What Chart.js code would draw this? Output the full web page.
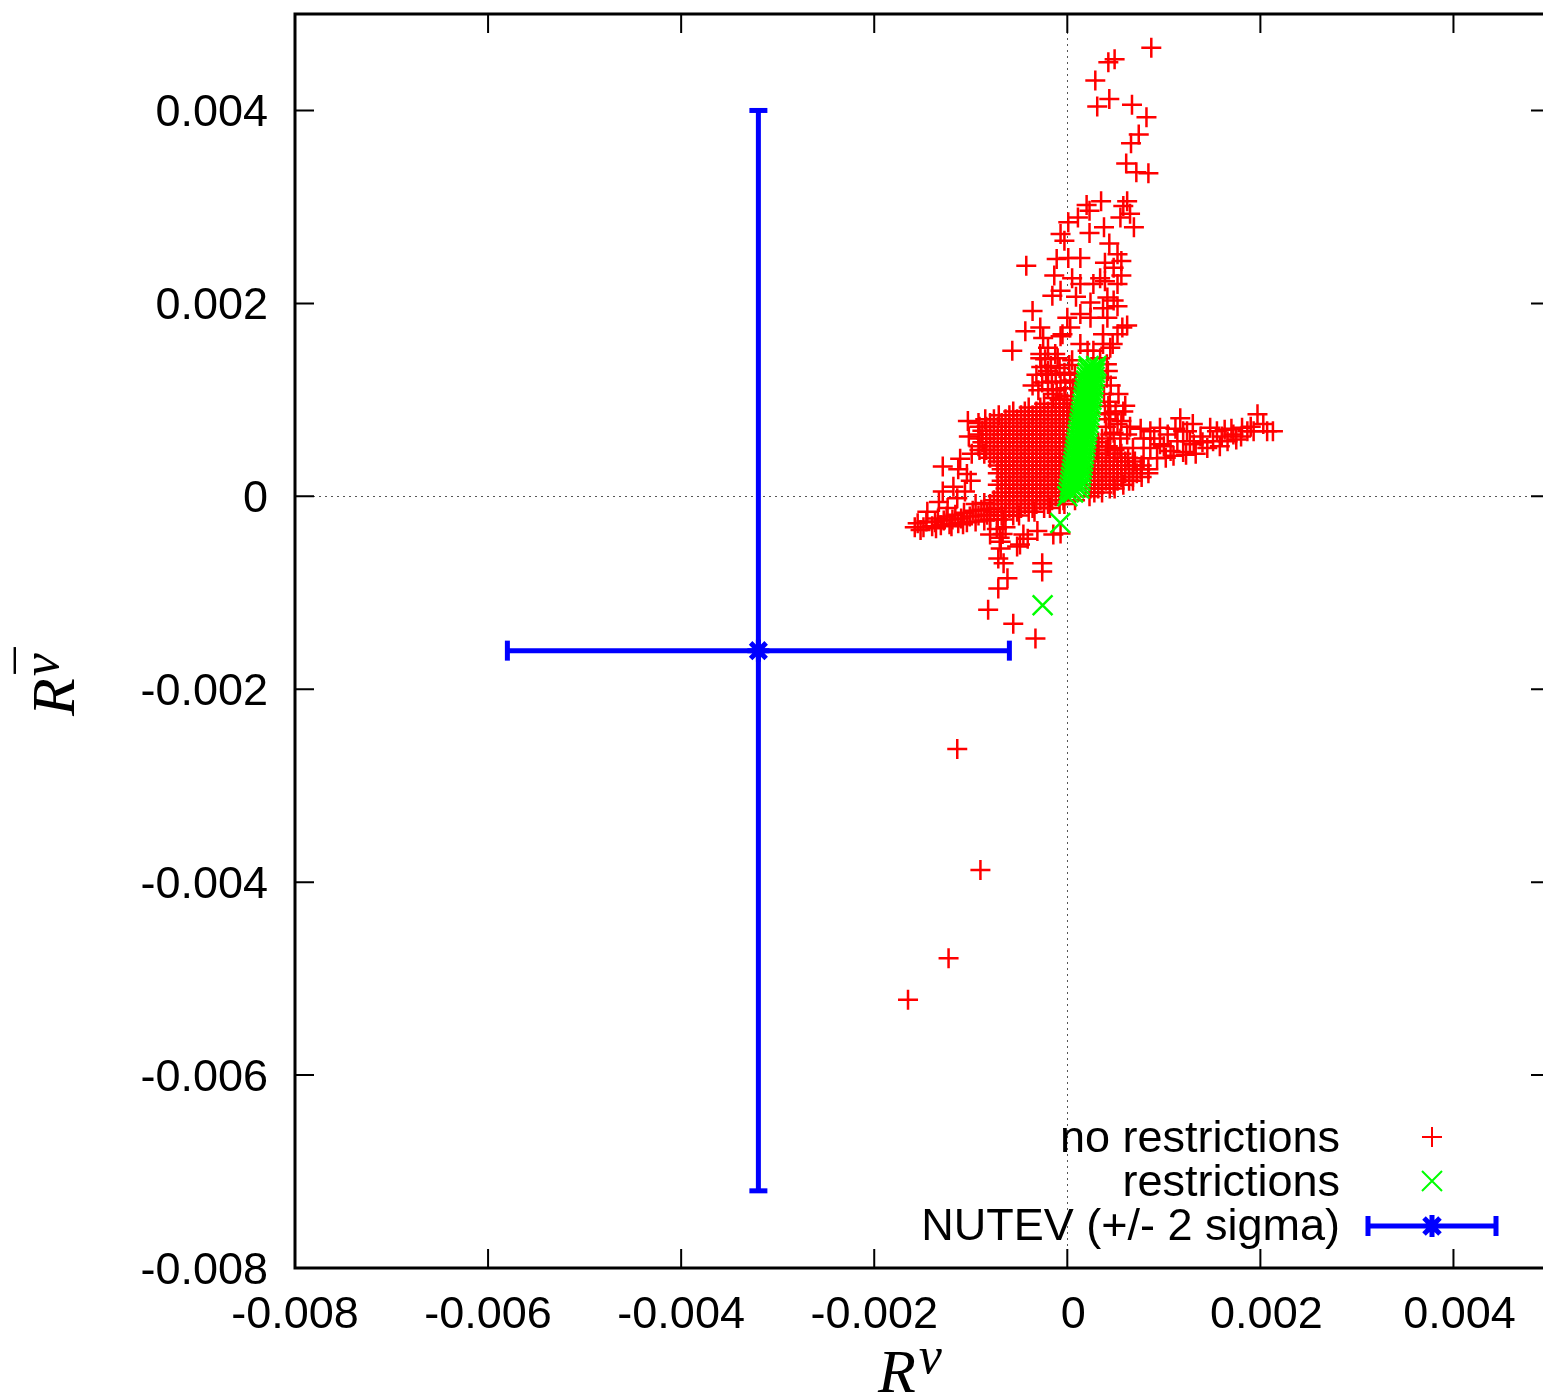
<!DOCTYPE html>
<html><head><meta charset="utf-8">
<script src="https://cdn.jsdelivr.net/npm/chart.js@4/dist/chart.umd.min.js"></script>
<style>
html,body{margin:0;padding:0;overflow:hidden;background:#fff;width:1543px;height:1400px}
#wrap{position:relative;width:1550px;height:1400px}
canvas{display:block}
</style></head><body><div id="wrap"><canvas id="c" width="1550" height="1400"></canvas></div>
<script>
// ---------- data ----------
const xTicks = [-0.008,-0.006,-0.004,-0.002,0,0.002,0.004];
const xTickLabels = ["-0.008","-0.006","-0.004","-0.002","0","0.002","0.004"];
const yTicks = [-0.008,-0.006,-0.004,-0.002,0,0.002,0.004];
const yTickLabels = ["-0.008","-0.006","-0.004","-0.002","0","0.002","0.004"];
const seriesNames = ["no restrictions","restrictions","NUTEV (+/- 2 sigma)"];
const xTitle = ["R","ν"];
const yTitle = ["R","ν","¯"];

// no restrictions (R^nu, R^nubar)
const noRestrictions = [
// lower-left arm
[-15.8e-4,-3.2e-4],[-15.5e-4,-2.8e-4],[-14.9e-4,-3.2e-4],[-14.6e-4,-2.6e-4],[-14.0e-4,-3.1e-4],[-13.7e-4,-2.7e-4],[-13.4e-4,-2.3e-4],
[-13.1e-4,-3.0e-4],[-12.8e-4,-2.5e-4],[-12.5e-4,-2.1e-4],[-12.2e-4,-2.9e-4],[-11.9e-4,-2.4e-4],[-11.6e-4,-1.9e-4],[-11.3e-4,-2.8e-4],
[-11.0e-4,-2.3e-4],[-10.7e-4,-1.7e-4],[-10.4e-4,-2.7e-4],[-10.1e-4,-2.1e-4],[-9.8e-4,-1.5e-4],[-9.5e-4,-2.6e-4],[-9.2e-4,-2.0e-4],
[-8.9e-4,-1.4e-4],[-9.5e-4,-0.8e-4],[-8.6e-4,-2.5e-4],[-8.3e-4,-1.9e-4],[-8.0e-4,-1.3e-4],[-8.6e-4,-0.7e-4],
[-15.2e-4,-3.5e-4],[-13.6e-4,-3.3e-4],[-12.0e-4,-3.1e-4],[-10.8e-4,-2.9e-4],
// sparse left
[-12.9e-4,3.1e-4],[-11.3e-4,2.8e-4],[-11.1e-4,3.9e-4],[-12.9e-4,0.5e-4],[-10.4e-4,2.3e-4],[-14.5e-4,-1.6e-4],[-12.4e-4,-1.2e-4],
[-11.4e-4,-0.2e-4],[-10.0e-4,1.6e-4],[-9.9e-4,4.4e-4],[-10.2e-4,6.2e-4],[-10.3e-4,7.8e-4],[-13.3e-4,-0.6e-4],[-11.8e-4,1.0e-4],[-10.6e-4,0.5e-4],
// dense block, row by row
[-8.0e-4,-2.4e-4],[-7.2e-4,-2.4e-4],[-6.6e-4,-2.4e-4],
[-8.0e-4,-2.0e-4],[-6.8e-4,-2.0e-4],[-5.6e-4,-2.0e-4],[-5.0e-4,-2.0e-4],
[-7.6e-4,-1.6e-4],[-6.4e-4,-1.6e-4],[-5.2e-4,-1.6e-4],[-4.0e-4,-1.6e-4],[-3.4e-4,-1.6e-4],
[-7.2e-4,-1.2e-4],[-6.0e-4,-1.2e-4],[-4.8e-4,-1.2e-4],[-3.6e-4,-1.2e-4],[-2.4e-4,-1.2e-4],[-1.8e-4,-1.2e-4],
[-8.0e-4,-0.8e-4],[-6.8e-4,-0.8e-4],[-5.6e-4,-0.8e-4],[-4.4e-4,-0.8e-4],[-3.2e-4,-0.8e-4],[-2.0e-4,-0.8e-4],[-0.8e-4,-0.8e-4],[-0.3e-4,-0.8e-4],
[-7.6e-4,-0.4e-4],[-6.4e-4,-0.4e-4],[-5.2e-4,-0.4e-4],[-4.0e-4,-0.4e-4],[-2.8e-4,-0.4e-4],[-1.6e-4,-0.4e-4],[-0.4e-4,-0.4e-4],[0.8e-4,-0.4e-4],
[-7.2e-4,0],[-6.0e-4,0],[-4.8e-4,0],[-3.6e-4,0],[-2.4e-4,0],[-1.2e-4,0],[2.3e-4,0],
[-6.8e-4,0.4e-4],[-5.6e-4,0.4e-4],[-4.4e-4,0.4e-4],[-3.2e-4,0.4e-4],[-2.0e-4,0.4e-4],[-0.8e-4,0.4e-4],[2.8e-4,0.4e-4],[3.6e-4,0.4e-4],
[-6.4e-4,0.8e-4],[-5.2e-4,0.8e-4],[-4.0e-4,0.8e-4],[-2.8e-4,0.8e-4],[-1.6e-4,0.8e-4],[-0.7e-4,0.8e-4],[2.4e-4,0.8e-4],[3.2e-4,0.8e-4],[4.4e-4,0.8e-4],[4.9e-4,0.8e-4],
[-7.2e-4,1.2e-4],[-6.0e-4,1.2e-4],[-4.8e-4,1.2e-4],[-3.6e-4,1.2e-4],[-2.4e-4,1.2e-4],[-1.2e-4,1.2e-4],[-0.6e-4,1.2e-4],[2.4e-4,1.2e-4],[3.6e-4,1.2e-4],[4.8e-4,1.2e-4],[5.8e-4,1.2e-4],
[-6.8e-4,1.6e-4],[-5.6e-4,1.6e-4],[-4.4e-4,1.6e-4],[-3.2e-4,1.6e-4],[-2.0e-4,1.6e-4],[-0.8e-4,1.6e-4],[2.8e-4,1.6e-4],[4.0e-4,1.6e-4],[5.2e-4,1.6e-4],[6.4e-4,1.6e-4],[6.8e-4,1.6e-4],
[-6.4e-4,2.0e-4],[-5.2e-4,2.0e-4],[-4.0e-4,2.0e-4],[-2.8e-4,2.0e-4],[-1.6e-4,2.0e-4],[-0.5e-4,2.0e-4],[3.2e-4,2.0e-4],[4.4e-4,2.0e-4],[5.6e-4,2.0e-4],[6.8e-4,2.0e-4],[7.7e-4,2.0e-4],
[-7.2e-4,2.4e-4],[-6.0e-4,2.4e-4],[-4.8e-4,2.4e-4],[-3.6e-4,2.4e-4],[-2.4e-4,2.4e-4],[-1.2e-4,2.4e-4],[-0.5e-4,2.4e-4],[2.4e-4,2.4e-4],[3.6e-4,2.4e-4],[4.8e-4,2.4e-4],[6.0e-4,2.4e-4],[7.2e-4,2.4e-4],[8.4e-4,2.4e-4],
[-6.8e-4,2.8e-4],[-5.6e-4,2.8e-4],[-4.4e-4,2.8e-4],[-3.2e-4,2.8e-4],[-2.0e-4,2.8e-4],[-0.8e-4,2.8e-4],[2.8e-4,2.8e-4],[4.0e-4,2.8e-4],[5.2e-4,2.8e-4],[6.4e-4,2.8e-4],[7.6e-4,2.8e-4],[8.4e-4,2.8e-4],
[-7.2e-4,3.2e-4],[-6.4e-4,3.2e-4],[-5.2e-4,3.2e-4],[-4.0e-4,3.2e-4],[-2.8e-4,3.2e-4],[-1.6e-4,3.2e-4],[-0.5e-4,3.2e-4],[3.2e-4,3.2e-4],[4.4e-4,3.2e-4],[5.6e-4,3.2e-4],[6.8e-4,3.2e-4],[7.7e-4,3.2e-4],
[-7.2e-4,3.6e-4],[-6.0e-4,3.6e-4],[-4.8e-4,3.6e-4],[-3.6e-4,3.6e-4],[-2.4e-4,3.6e-4],[-1.2e-4,3.6e-4],[-0.4e-4,3.6e-4],[3.6e-4,3.6e-4],[4.8e-4,3.6e-4],[6.0e-4,3.6e-4],[7.0e-4,3.6e-4],
[-8.0e-4,4.0e-4],[-6.8e-4,4.0e-4],[-5.6e-4,4.0e-4],[-4.4e-4,4.0e-4],[-3.2e-4,4.0e-4],[-2.0e-4,4.0e-4],[-0.8e-4,4.0e-4],[-0.3e-4,4.0e-4],[2.8e-4,4.0e-4],[4.0e-4,4.0e-4],[5.2e-4,4.0e-4],[6.3e-4,4.0e-4],
[-8.6e-4,4.4e-4],[-7.6e-4,4.4e-4],[-6.4e-4,4.4e-4],[-5.2e-4,4.4e-4],[-4.0e-4,4.4e-4],[-2.8e-4,4.4e-4],[-1.6e-4,4.4e-4],[-0.3e-4,4.4e-4],[3.2e-4,4.4e-4],[4.4e-4,4.4e-4],[5.6e-4,4.4e-4],
[-9.1e-4,4.8e-4],[-8.4e-4,4.8e-4],[-7.2e-4,4.8e-4],[-6.0e-4,4.8e-4],[-4.8e-4,4.8e-4],[-3.6e-4,4.8e-4],[-2.4e-4,4.8e-4],[-1.2e-4,4.8e-4],[-0.2e-4,4.8e-4],[3.1e-4,4.8e-4],[4.0e-4,4.8e-4],[4.9e-4,4.8e-4],
[-9.2e-4,5.2e-4],[-8.0e-4,5.2e-4],[-6.8e-4,5.2e-4],[-5.6e-4,5.2e-4],[-4.4e-4,5.2e-4],[-3.2e-4,5.2e-4],[-2.0e-4,5.2e-4],[-0.8e-4,5.2e-4],[-0.1e-4,5.2e-4],[3.2e-4,5.2e-4],[4.2e-4,5.2e-4],
[-8.8e-4,5.6e-4],[-7.6e-4,5.6e-4],[-6.4e-4,5.6e-4],[-5.2e-4,5.6e-4],[-4.0e-4,5.6e-4],[-2.8e-4,5.6e-4],[-1.6e-4,5.6e-4],[-0.4e-4,5.6e-4],[3.2e-4,5.6e-4],
[-9.1e-4,6.0e-4],[-8.4e-4,6.0e-4],[-7.2e-4,6.0e-4],[-6.0e-4,6.0e-4],[-4.8e-4,6.0e-4],[-3.6e-4,6.0e-4],[-2.4e-4,6.0e-4],[-1.2e-4,6.0e-4],[0,6.0e-4],
[-9.2e-4,6.4e-4],[-8.0e-4,6.4e-4],[-6.8e-4,6.4e-4],[-5.6e-4,6.4e-4],[-4.4e-4,6.4e-4],[-3.2e-4,6.4e-4],[-2.0e-4,6.4e-4],[-0.8e-4,6.4e-4],
[-8.8e-4,6.8e-4],[-7.6e-4,6.8e-4],[-6.4e-4,6.8e-4],[-5.2e-4,6.8e-4],[-4.0e-4,6.8e-4],[-2.8e-4,6.8e-4],[-1.6e-4,6.8e-4],[-0.4e-4,6.8e-4],
[-9.1e-4,7.2e-4],[-8.4e-4,7.2e-4],[-7.2e-4,7.2e-4],[-6.0e-4,7.2e-4],[-4.8e-4,7.2e-4],[-3.6e-4,7.2e-4],[-2.4e-4,7.2e-4],[-1.2e-4,7.2e-4],[0,7.2e-4],
[-9.2e-4,7.6e-4],[-8.0e-4,7.6e-4],[-6.8e-4,7.6e-4],[-5.6e-4,7.6e-4],[-4.4e-4,7.6e-4],[-3.2e-4,7.6e-4],[-2.0e-4,7.6e-4],[-0.8e-4,7.6e-4],[0.1e-4,7.6e-4],
[-8.5e-4,8.0e-4],[-7.6e-4,8.0e-4],[-6.4e-4,8.0e-4],[-5.2e-4,8.0e-4],[-4.0e-4,8.0e-4],[-2.8e-4,8.0e-4],[-1.6e-4,8.0e-4],[-0.4e-4,8.0e-4],
[-7.1e-4,8.4e-4],[-6.0e-4,8.4e-4],[-4.8e-4,8.4e-4],[-3.6e-4,8.4e-4],[-2.4e-4,8.4e-4],[-1.2e-4,8.4e-4],[0,8.4e-4],
[-5.6e-4,8.8e-4],[-4.4e-4,8.8e-4],[-3.2e-4,8.8e-4],[-2.0e-4,8.8e-4],[-0.8e-4,8.8e-4],[0.3e-4,8.8e-4],
[-4.0e-4,9.2e-4],[-2.8e-4,9.2e-4],[-1.6e-4,9.2e-4],[-0.4e-4,9.2e-4],[0.4e-4,9.2e-4],
[-2.4e-4,9.6e-4],[-1.2e-4,9.6e-4],[0,9.6e-4],[0.5e-4,9.6e-4],
[-0.8e-4,10.0e-4],[0.4e-4,10.0e-4],[-1.5e-4,10.2e-4],[-0.3e-4,10.4e-4],
// column above block
[-3.0e-4,11.0e-4],[-2.0e-4,11.1e-4],[-1.1e-4,11.0e-4],[-0.2e-4,11.2e-4],[0.6e-4,11.2e-4],
[-2.6e-4,11.8e-4],[-1.6e-4,11.9e-4],[-0.7e-4,11.8e-4],[0.3e-4,12.0e-4],
[-3.2e-4,12.6e-4],[-2.2e-4,12.7e-4],[-1.2e-4,12.6e-4],[-0.3e-4,12.8e-4],[0.8e-4,12.6e-4],
[-2.7e-4,13.4e-4],[-1.7e-4,13.5e-4],[-0.8e-4,13.3e-4],[0.2e-4,13.6e-4],
[-2.3e-4,14.2e-4],[-1.0e-4,14.3e-4],[0.5e-4,14.1e-4],
[-3.6e-4,11.5e-4],[-1.5e-4,10.6e-4],[0.9e-4,11.8e-4],[-2.0e-4,13.0e-4],
// right of the green band
[4.2e-4,13.0e-4],[4.5e-4,11.5e-4],[5.3e-4,10.6e-4],[4.4e-4,9.8e-4],[6.0e-4,9.4e-4],[5.0e-4,8.8e-4],[4.3e-4,8.0e-4],
[5.6e-4,7.8e-4],[6.5e-4,7.2e-4],[4.0e-4,7.2e-4],[4.8e-4,6.6e-4],[5.8e-4,8.8e-4],[4.25e-4,9.35e-4],[4.45e-4,8.5e-4],
[5.2e-4,7.5e-4],[4.45e-4,6.4e-4],[5.5e-4,6.0e-4],[4.1e-4,12.3e-4],[4.1e-4,13.7e-4],[4.7e-4,15.8e-4],
[3.6e-4,6.0e-4],[3.9e-4,8.6e-4],[3.8e-4,10.6e-4],
// right arm
[11.7e-4,8.1e-4],[19.7e-4,8.5e-4],[20.7e-4,6.75e-4],[21.3e-4,6.75e-4],[18.1e-4,7.1e-4],[18.65e-4,6.75e-4],[17.2e-4,6.4e-4],
[15.5e-4,6.75e-4],[15.1e-4,5.7e-4],[14.5e-4,5.0e-4],[16.6e-4,5.7e-4],[13.8e-4,6.2e-4],[12.4e-4,6.75e-4],[12.7e-4,5.7e-4],
[10.4e-4,6.4e-4],[10.7e-4,4.7e-4],[11.4e-4,5.7e-4],[8.6e-4,6.75e-4],[7.9e-4,6.0e-4],[7.6e-4,7.0e-4],[9.6e-4,5.4e-4],
[6.2e-4,6.4e-4],[6.8e-4,5.0e-4],[5.5e-4,5.0e-4],[8.6e-4,5.0e-4],[9.3e-4,3.95e-4],[7.9e-4,3.95e-4],[13.1e-4,5.4e-4],
[19.3e-4,6.75e-4],[20.3e-4,7.5e-4],[14.8e-4,7.1e-4],[12.0e-4,6.75e-4],[9.6e-4,7.1e-4],
[10.0e-4,5.2e-4],[11.0e-4,4.2e-4],[12.0e-4,4.6e-4],[13.3e-4,4.4e-4],[14.0e-4,5.6e-4],[15.8e-4,5.2e-4],[16.0e-4,6.2e-4],
[17.5e-4,5.9e-4],[18.0e-4,6.2e-4],[19.0e-4,7.2e-4],[17.0e-4,7.0e-4],[16.3e-4,6.9e-4],[13.0e-4,7.5e-4],[11.2e-4,7.0e-4],
[9.0e-4,6.0e-4],[10.2e-4,4.0e-4],[12.3e-4,4.3e-4],
// upper plume
[8.7e-4,46.5e-4],[4.9e-4,45.3e-4],[4.25e-4,45.0e-4],[2.9e-4,43.1e-4],[4.35e-4,41.2e-4],[3.1e-4,40.4e-4],[6.7e-4,40.6e-4],
[8.2e-4,39.3e-4],[7.4e-4,37.5e-4],[6.6e-4,36.6e-4],[6.1e-4,34.5e-4],[7.15e-4,33.6e-4],[8.4e-4,33.5e-4],[6.2e-4,30.6e-4],
[3.5e-4,30.6e-4],[2.0e-4,30.2e-4],[2.3e-4,29.6e-4],[5.8e-4,30.1e-4],[6.5e-4,29.3e-4],[5.5e-4,28.9e-4],[6.9e-4,27.9e-4],
[1.1e-4,28.9e-4],[0.1e-4,28.4e-4],[-0.7e-4,27.2e-4],[-0.3e-4,26.5e-4],[2.3e-4,27.3e-4],[3.8e-4,27.9e-4],[-4.25e-4,23.9e-4],
[-1.1e-4,24.6e-4],[0.1e-4,24.7e-4],[1.35e-4,24.7e-4],[4.35e-4,26.2e-4],[5.2e-4,25.1e-4],[5.6e-4,24.4e-4],[3.9e-4,24.2e-4],
[4.8e-4,23.7e-4],[-1.35e-4,22.9e-4],[0.5e-4,22.6e-4],[1.35e-4,22.0e-4],[2.7e-4,22.0e-4],[3.9e-4,22.3e-4],[5.6e-4,22.9e-4],
[5.2e-4,22.0e-4],[-1.55e-4,20.8e-4],[0.9e-4,20.7e-4],[4.15e-4,20.6e-4],[2.4e-4,20.1e-4],[4.8e-4,20.3e-4],[5.2e-4,19.7e-4],
[3.4e-4,22.6e-4],[-0.7e-4,21.3e-4],[-3.6e-4,19.2e-4],[0,18.5e-4],[1.35e-4,18.9e-4],[2.4e-4,18.5e-4],[3.7e-4,19.5e-4],
[4.15e-4,18.5e-4],[0.3e-4,17.5e-4],[5.7e-4,17.5e-4],[5.2e-4,16.8e-4],[3.7e-4,16.8e-4],[-2.8e-4,17.5e-4],[-4.35e-4,17.1e-4],
[-2.5e-4,16.4e-4],[-0.7e-4,16.6e-4],[3.7e-4,15.8e-4],[4.45e-4,15.4e-4],[-5.7e-4,15.1e-4],[-2.0e-4,15.4e-4],[-1.25e-4,14.75e-4],
[-2.8e-4,14.75e-4],[2.1e-4,15.1e-4],[3.4e-4,14.3e-4],[-0.5e-4,16.8e-4],[1.35e-4,15.8e-4],[2.7e-4,15.1e-4],[6.2e-4,17.7e-4],[-2.8e-4,14.3e-4],
// below the block
[-7.3e-4,-3.4e-4],[-6.7e-4,-3.9e-4],[-7.0e-4,-4.3e-4],[-6.4e-4,-3.2e-4],
[-0.7e-4,-3.85e-4],[-6.9e-4,-4.7e-4],[-4.9e-4,-5.0e-4],[-3.1e-4,-3.6e-4],[-7.15e-4,-6.45e-4],[-6.6e-4,-6.95e-4],[-2.6e-4,-6.95e-4],
[-2.6e-4,-7.8e-4],[-6.2e-4,-8.5e-4],[-7.15e-4,-9.55e-4],[-8.2e-4,-11.75e-4],[-5.6e-4,-13.2e-4],[-3.3e-4,-14.75e-4],[-6.9e-4,-5.4e-4],
[-4.55e-4,-3.95e-4],[-1.45e-4,-3.95e-4],[-8.0e-4,-3.95e-4],[-4.1e-4,-4.4e-4],[-5.2e-4,-5.2e-4],
// far outliers
[-11.4e-4,-26.2e-4],[-9.0e-4,-38.75e-4],[-12.3e-4,-47.9e-4],[-16.5e-4,-52.2e-4]
];

// restrictions
const restrictions = [
[0,0],[0.14e-4,0.4e-4],[0.6e-4,0.4e-4],
[0.20e-4,0.8e-4],[0.72e-4,0.8e-4],[1.24e-4,0.8e-4],
[0.27e-4,1.2e-4],[0.79e-4,1.2e-4],[1.30e-4,1.2e-4],
[0.33e-4,1.6e-4],[0.84e-4,1.6e-4],[1.35e-4,1.6e-4],
[0.39e-4,2.0e-4],[0.90e-4,2.0e-4],[1.40e-4,2.0e-4],
[0.46e-4,2.4e-4],[0.96e-4,2.4e-4],[1.46e-4,2.4e-4],
[0.52e-4,2.8e-4],[1.02e-4,2.8e-4],[1.51e-4,2.8e-4],
[0.58e-4,3.2e-4],[1.08e-4,3.2e-4],[1.57e-4,3.2e-4],
[0.64e-4,3.6e-4],[1.13e-4,3.6e-4],[1.62e-4,3.6e-4],
[0.71e-4,4.0e-4],[1.19e-4,4.0e-4],[1.68e-4,4.0e-4],
[0.77e-4,4.4e-4],[1.25e-4,4.4e-4],[1.73e-4,4.4e-4],
[0.83e-4,4.8e-4],[1.31e-4,4.8e-4],[1.79e-4,4.8e-4],
[0.89e-4,5.2e-4],[1.37e-4,5.2e-4],[1.84e-4,5.2e-4],
[0.96e-4,5.6e-4],[1.42e-4,5.6e-4],[1.89e-4,5.6e-4],
[1.02e-4,6.0e-4],[1.48e-4,6.0e-4],[1.95e-4,6.0e-4],
[1.08e-4,6.4e-4],[1.54e-4,6.4e-4],[2.00e-4,6.4e-4],
[1.15e-4,6.8e-4],[1.60e-4,6.8e-4],[2.06e-4,6.8e-4],
[1.21e-4,7.2e-4],[1.66e-4,7.2e-4],[2.11e-4,7.2e-4],
[1.27e-4,7.6e-4],[1.72e-4,7.6e-4],[2.17e-4,7.6e-4],
[1.33e-4,8.0e-4],[1.78e-4,8.0e-4],[2.22e-4,8.0e-4],
[1.40e-4,8.4e-4],[1.84e-4,8.4e-4],[2.27e-4,8.4e-4],
[1.46e-4,8.8e-4],[1.89e-4,8.8e-4],[2.33e-4,8.8e-4],
[1.52e-4,9.2e-4],[1.95e-4,9.2e-4],[2.38e-4,9.2e-4],
[1.59e-4,9.6e-4],[2.01e-4,9.6e-4],[2.44e-4,9.6e-4],
[1.65e-4,10.0e-4],[2.07e-4,10.0e-4],[2.49e-4,10.0e-4],
[1.71e-4,10.4e-4],[2.13e-4,10.4e-4],[2.55e-4,10.4e-4],
[1.77e-4,10.8e-4],[2.19e-4,10.8e-4],[2.60e-4,10.8e-4],
[1.84e-4,11.2e-4],[2.25e-4,11.2e-4],[2.66e-4,11.2e-4],
[1.90e-4,11.6e-4],[2.30e-4,11.6e-4],[2.71e-4,11.6e-4],
[1.96e-4,12.0e-4],[2.36e-4,12.0e-4],[2.76e-4,12.0e-4],
[2.03e-4,12.4e-4],[2.42e-4,12.4e-4],[2.82e-4,12.4e-4],
[2.09e-4,12.8e-4],[2.48e-4,12.8e-4],[2.87e-4,12.8e-4],
[2.15e-4,13.2e-4],[2.54e-4,13.2e-4],[2.93e-4,13.2e-4],
[2.2e-4,13.5e-4],[3.0e-4,13.5e-4],
[-0.73e-4,-2.77e-4],[-2.56e-4,-11.3e-4]
];

// NUTEV central value and +/- 2 sigma
const nutevX = [-0.0032];
const nutevY = [-0.0016];
const nutevXErr = [0.0026];
const nutevYErr = [0.0056];

// ---------- chart ----------
const RED='#ff0000', GREEN='#00ff00', BLUE='#0000ff';
const SANS='"Liberation Sans", Arial, Helvetica, sans-serif';
const SERIF='"Liberation Serif", "DejaVu Serif", serif';
Chart.defaults.font.family=SANS;
Chart.defaults.color='#000';

const toXY = arr => arr.map(p=>({x:p[0],y:p[1]}));
const nx=nutevX[0], ny=nutevY[0], nxe=nutevXErr[0], nye=nutevYErr[0];

const overlay = {
  id:'overlay',
  beforeDatasetsDraw(chart){
    const {ctx, chartArea:a, scales:{x,y}} = chart;
    ctx.save();
    ctx.strokeStyle='#555'; ctx.lineWidth=1; ctx.setLineDash([2,4]);
    const x0=Math.round(x.getPixelForValue(0))+0.5, y0=Math.round(y.getPixelForValue(0))+0.5;
    ctx.beginPath();
    ctx.moveTo(x0,a.top); ctx.lineTo(x0,a.bottom);
    ctx.moveTo(a.left,y0); ctx.lineTo(a.right,y0);
    ctx.stroke();
    ctx.restore();
  },
  afterDraw(chart){
    const {ctx, chartArea:a, scales:{x,y}} = chart;
    ctx.save();
    ctx.setLineDash([]);
    ctx.strokeStyle='#000';
    ctx.lineWidth=2;
    ctx.beginPath();
    xTicks.forEach(v=>{const p=x.getPixelForValue(v);
      ctx.moveTo(p,a.bottom); ctx.lineTo(p,a.bottom-19);
      ctx.moveTo(p,a.top); ctx.lineTo(p,a.top+19);});
    yTicks.forEach(v=>{const p=y.getPixelForValue(v);
      ctx.moveTo(a.left,p); ctx.lineTo(a.left+19,p);
      ctx.moveTo(a.right,p); ctx.lineTo(a.right-19,p);});
    ctx.stroke();
    ctx.lineWidth=3;
    ctx.strokeRect(a.left,a.top,a.right-a.left,a.bottom-a.top);

    // tick labels
    ctx.fillStyle='#000';
    ctx.font='45px '+SANS;
    ctx.textBaseline='alphabetic';
    ctx.textAlign='center';
    xTicks.forEach((v,i)=>{
      const lab=xTickLabels[i];
      const shift = lab.charAt(0)==='-' ? 0 : 6;
      ctx.fillText(lab, x.getPixelForValue(v)+shift, a.bottom+60);
    });
    ctx.textAlign='right';
    yTicks.forEach((v,i)=>ctx.fillText(yTickLabels[i], a.left-27, y.getPixelForValue(v)+16));

    // legend
    const rows=[1137,1181,1226];
    ctx.fillText(seriesNames[0],1340,rows[0]+15);
    ctx.fillText(seriesNames[1],1340,rows[1]+15);
    ctx.fillText(seriesNames[2],1340,rows[2]+14);
    const mx=1432;
    ctx.lineWidth=2; ctx.strokeStyle=RED;
    ctx.beginPath(); ctx.moveTo(mx-10,rows[0]); ctx.lineTo(mx+10,rows[0]); ctx.moveTo(mx,rows[0]-10); ctx.lineTo(mx,rows[0]+10); ctx.stroke();
    ctx.strokeStyle=GREEN;
    ctx.beginPath(); ctx.moveTo(mx-10,rows[1]-10); ctx.lineTo(mx+10,rows[1]+10); ctx.moveTo(mx-10,rows[1]+10); ctx.lineTo(mx+10,rows[1]-10); ctx.stroke();
    ctx.strokeStyle=BLUE; ctx.lineWidth=5;
    ctx.beginPath();
    ctx.moveTo(1368,rows[2]); ctx.lineTo(1496,rows[2]);
    ctx.moveTo(1368,rows[2]-10); ctx.lineTo(1368,rows[2]+10);
    ctx.moveTo(1496,rows[2]-10); ctx.lineTo(1496,rows[2]+10);
    ctx.moveTo(mx-11,rows[2]); ctx.lineTo(mx+11,rows[2]);
    ctx.moveTo(mx,rows[2]-11); ctx.lineTo(mx,rows[2]+11);
    ctx.moveTo(mx-8,rows[2]-8); ctx.lineTo(mx+8,rows[2]+8);
    ctx.moveTo(mx-8,rows[2]+8); ctx.lineTo(mx+8,rows[2]-8);
    ctx.stroke();

    // axis titles
    ctx.fillStyle='#000'; ctx.textAlign='left'; ctx.textBaseline='alphabetic';
    ctx.font='italic 62px '+SERIF;
    const wR=ctx.measureText(xTitle[0]).width;
    ctx.fillText(xTitle[0],878,1392);
    ctx.font='italic 52px '+SERIF;
    ctx.fillText(xTitle[1],878+wR+3,1373);

    ctx.translate(74,716); ctx.rotate(-Math.PI/2);
    ctx.font='italic 62px '+SERIF;
    ctx.fillText(yTitle[0],0,0);
    ctx.font='italic 52px '+SERIF;
    const nuX=wR+2, wNu=ctx.measureText(yTitle[1]).width;
    ctx.fillText(yTitle[1],nuX,-16);
    ctx.font='52px '+SERIF;
    const wMac=ctx.measureText(yTitle[2]).width;
    ctx.fillText(yTitle[2],nuX+(wNu-wMac)/2+4,-20);
    ctx.restore();
  }
};

new Chart(document.getElementById('c'), {
  type:'scatter',
  data:{datasets:[
    {label:seriesNames[0], data:toXY(noRestrictions), pointStyle:'cross', pointRadius:10,
     pointBorderWidth:2.5, borderWidth:2.5, pointBorderColor:RED, borderColor:RED, backgroundColor:RED, order:3},
    {label:seriesNames[1], data:toXY(restrictions), pointStyle:'crossRot', pointRadius:14,
     pointBorderWidth:2.5, borderWidth:2.5, pointBorderColor:GREEN, borderColor:GREEN, backgroundColor:GREEN, order:2},
    {label:'xerr', data:[{x:nx-nxe,y:ny},{x:nx+nxe,y:ny}], showLine:true, borderColor:BLUE, borderWidth:5,
     pointStyle:'line', pointRotation:90, pointRadius:10, pointBorderWidth:5, pointBorderColor:BLUE, order:1},
    {label:'yerr', data:[{x:nx,y:ny-nye},{x:nx,y:ny+nye}], showLine:true, borderColor:BLUE, borderWidth:5,
     pointStyle:'line', pointRotation:0, pointRadius:9, pointBorderWidth:5, pointBorderColor:BLUE, order:1},
    {label:seriesNames[2], data:[{x:nx,y:ny}], pointStyle:'star', pointRadius:11,
     pointBorderWidth:5, borderWidth:5, pointBorderColor:BLUE, borderColor:BLUE, order:0}
  ]},
  options:{
    responsive:false, animation:false, devicePixelRatio:1, events:[],
    layout:{autoPadding:false, padding:{top:14,left:0,right:0,bottom:0}},
    plugins:{legend:{display:false}, tooltip:{enabled:false}},
    scales:{
      x:{type:'linear', min:-0.008, max:0.005,
        afterBuildTicks:s=>{s.ticks=xTicks.map(v=>({value:v}));},
        afterFit:s=>{s.height=132;},
        grid:{display:false, drawTicks:false}, border:{display:false},
        ticks:{display:false}},
      y:{type:'linear', min:-0.008, max:0.005,
        afterBuildTicks:s=>{s.ticks=yTicks.map(v=>({value:v}));},
        afterFit:s=>{s.width=295;},
        grid:{display:false, drawTicks:false}, border:{display:false},
        ticks:{display:false}}
    }
  },
  plugins:[overlay]
});
</script></body></html>
